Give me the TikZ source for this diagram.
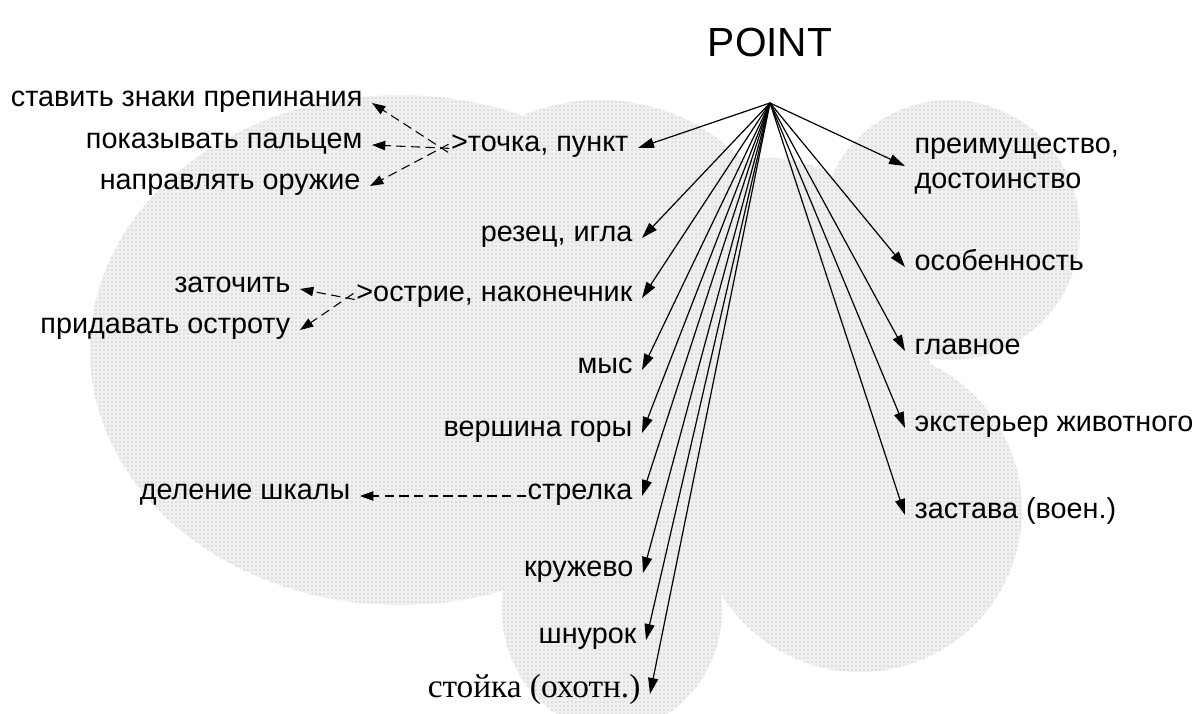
\documentclass[tikz,border=0pt]{standalone}
\usepackage{fontspec}
\setmainfont{Liberation Sans}
\newfontfamily\timesfont{Liberation Serif}
\usetikzlibrary{arrows.meta,patterns}

\begin{document}
\begin{tikzpicture}[x=0.75pt, y=-0.75pt,
  blob/.style={fill=gray!12, postaction={pattern=dots, pattern color=gray!70}},
  word/.style={inner xsep=7pt, inner ysep=1pt, text height=1.2ex, text depth=0.2ex, font=\fontsize{21.6}{26}\selectfont},
  lword/.style={word, anchor=east},
  rword/.style={word, anchor=west},
  twoline/.style={anchor=west, align=left, inner xsep=7pt, font=\fontsize{21.6}{26}\selectfont},
  link/.style={-{Triangle[length=12pt, width=7.5pt]}, line width=0.9pt},
  hint/.style={-{Triangle[length=10pt, width=7pt]}, line width=0.8pt, dash pattern=on 7pt off 4pt, shorten <=-6pt}
]
\useasboundingbox (0,0) rectangle (1196,714);

\path[blob] (400,350) ellipse [x radius=310, y radius=255];
\path[blob] (600,300) circle [radius=200];
\path[blob] (770,375) ellipse [x radius=160, y radius=217];
\path[blob] (950,230) circle [radius=130];
\path[blob] (860,510) circle [radius=162];
\path[blob] (612,610) ellipse [x radius=110, y radius=120];

\node[font=\fontsize{30.5}{36}\selectfont] (title) at (770,42) {POINT};
\coordinate (hub) at (770,103);

\node[lword] (tochka) at (638,148) {>точка, пункт};
\node[lword] (rezec) at (642,238) {резец, игла};
\node[lword] (ostrie) at (642,298) {>острие, наконечник};
\node[lword] (mys) at (642,370) {мыс};
\node[lword] (vershina) at (642,433) {вершина горы};
\node[lword] (strelka) at (642,496) {стрелка};
\node[lword] (kruzhevo) at (643,573) {кружево};
\node[lword] (shnurok) at (646,640) {шнурок};
\node[lword, font=\timesfont\fontsize{25}{30}\selectfont] (stojka) at (650,694) {стойка (охотн.)};

\node[twoline] (preim) at (905,166) {преимущество,\\достоинство};
\node[rword] (osob) at (905,267) {особенность};
\node[rword] (glavn) at (905,351) {главное};
\node[rword] (eksterjer) at (905,428) {экстерьер животного};
\node[rword] (zastava) at (905,515) {застава (воен.)};

\node[lword] (znaki) at (372,103) {ставить знаки препинания};
\node[lword] (palec) at (372,145) {показывать пальцем};
\node[lword] (oruzhie) at (370,186) {направлять оружие};
\node[lword] (zatochit) at (300,289) {заточить};
\node[lword] (ostrota) at (300,330) {придавать остроту};
\node[lword] (delenie) at (360,496) {деление шкалы};

\foreach \t in {tochka, rezec, ostrie, mys, vershina, strelka, kruzhevo, shnurok, stojka}
  \draw[link] (hub) -- (\t.east);
\foreach \t in {preim, osob, glavn, eksterjer, zastava}
  \draw[link] (hub) -- (\t.west);

\foreach \t in {znaki, palec, oruzhie}
  \draw[hint] (tochka.west) -- (\t.east);
\foreach \t in {zatochit, ostrota}
  \draw[hint] (ostrie.west) -- (\t.east);
\draw[hint] (strelka.west) -- (delenie.east);
\end{tikzpicture}
\end{document}
